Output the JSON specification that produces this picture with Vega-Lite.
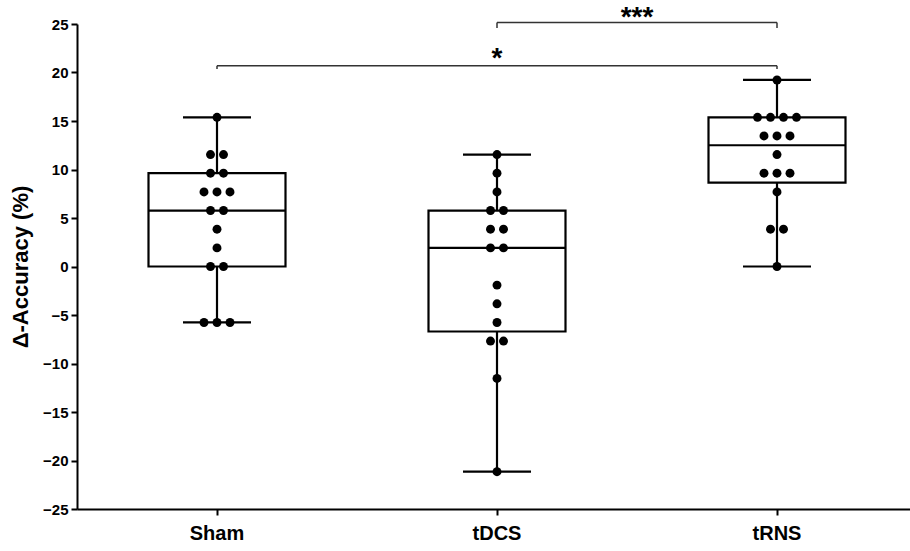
{
  "$schema": "https://vega.github.io/schema/vega-lite/v6.json",
  "width": 833,
  "height": 485,
  "autosize": {"type": "none"},
  "padding": {"left": 77, "top": 24, "right": 0, "bottom": 42},
  "background": "white",
  "config": {
    "font": "Liberation Sans",
    "view": {"stroke": null},
    "axis": {
      "domainColor": "#000000",
      "domainWidth": 2,
      "tickColor": "#000000",
      "tickWidth": 2,
      "tickSize": 6,
      "grid": false,
      "labelColor": "#000000",
      "labelFont": "Liberation Sans",
      "labelFontWeight": 700,
      "titleColor": "#000000",
      "titleFont": "Liberation Sans",
      "titleFontWeight": 700
    },
    "axisY": {"labelFontSize": 15, "labelFontWeight": 700, "labelPadding": 3}
  },
  "datasets": {
    "points": [
      {"group": "Sham", "value": 15.38}, {"group": "Sham", "value": 11.54}, {"group": "Sham", "value": 11.54},
      {"group": "Sham", "value": 9.62}, {"group": "Sham", "value": 9.62}, {"group": "Sham", "value": 7.69},
      {"group": "Sham", "value": 7.69}, {"group": "Sham", "value": 7.69}, {"group": "Sham", "value": 5.77},
      {"group": "Sham", "value": 5.77}, {"group": "Sham", "value": 3.85}, {"group": "Sham", "value": 1.92},
      {"group": "Sham", "value": 0}, {"group": "Sham", "value": 0}, {"group": "Sham", "value": -5.77},
      {"group": "Sham", "value": -5.77}, {"group": "Sham", "value": -5.77},
      {"group": "tDCS", "value": 11.54}, {"group": "tDCS", "value": 9.62}, {"group": "tDCS", "value": 7.69},
      {"group": "tDCS", "value": 5.77}, {"group": "tDCS", "value": 5.77}, {"group": "tDCS", "value": 3.85},
      {"group": "tDCS", "value": 3.85}, {"group": "tDCS", "value": 1.92}, {"group": "tDCS", "value": 1.92},
      {"group": "tDCS", "value": -1.92}, {"group": "tDCS", "value": -3.85}, {"group": "tDCS", "value": -5.77},
      {"group": "tDCS", "value": -7.69}, {"group": "tDCS", "value": -7.69}, {"group": "tDCS", "value": -11.54},
      {"group": "tDCS", "value": -21.15},
      {"group": "tRNS", "value": 19.23}, {"group": "tRNS", "value": 15.38}, {"group": "tRNS", "value": 15.38},
      {"group": "tRNS", "value": 15.38}, {"group": "tRNS", "value": 15.38}, {"group": "tRNS", "value": 13.46},
      {"group": "tRNS", "value": 13.46}, {"group": "tRNS", "value": 13.46}, {"group": "tRNS", "value": 11.54},
      {"group": "tRNS", "value": 9.62}, {"group": "tRNS", "value": 9.62}, {"group": "tRNS", "value": 9.62},
      {"group": "tRNS", "value": 7.69}, {"group": "tRNS", "value": 3.85}, {"group": "tRNS", "value": 3.85},
      {"group": "tRNS", "value": 0}
    ],
    "summary": [
      {"group": "Sham", "min": -5.77, "q1": 0, "median": 5.77, "q3": 9.62, "max": 15.38},
      {"group": "tDCS", "min": -21.15, "q1": -6.7, "median": 1.92, "q3": 5.77, "max": 11.54},
      {"group": "tRNS", "min": 0, "q1": 8.65, "median": 12.5, "q3": 15.38, "max": 19.23}
    ],
    "brackets": [
      {"from": "Sham", "to": "tRNS", "y": 20.7, "tip": 20.35, "label": "*"},
      {"from": "tDCS", "to": "tRNS", "y": 25.15, "tip": 24.6, "label": "***"}
    ]
  },
  "encoding": {
    "x": {
      "field": "group",
      "type": "nominal",
      "title": null,
      "scale": {"domain": ["Sham", "tDCS", "tRNS"], "range": [0, 840], "paddingInner": 0, "paddingOuter": 0},
      "axis": {"labelAngle": 0, "labelFontSize": 20, "labelFontWeight": 700, "labelPadding": 8, "domainWidth": 2}
    }
  },
  "layer": [
    {
      "data": {"name": "summary"},
      "mark": {"type": "rule", "color": "#000000", "strokeWidth": 2.2, "opacity": 1},
      "encoding": {
        "y": {
          "field": "min", "type": "quantitative", "title": "Δ-Accuracy (%)",
          "scale": {"domain": [-25, 25], "nice": false, "zero": false},
          "axis": {"values": [-25, -20, -15, -10, -5, 0, 5, 10, 15, 20, 25], "labelFontSize": 15, "labelFontWeight": 700, "labelPadding": 3, "titleFontSize": 22, "titlePadding": 10}
        },
        "y2": {"field": "q1"}
      }
    },
    {
      "data": {"name": "summary"},
      "mark": {"type": "rule", "color": "#000000", "strokeWidth": 2.2, "opacity": 1},
      "encoding": {
        "y": {"field": "q3", "type": "quantitative", "title": "Δ-Accuracy (%)"},
        "y2": {"field": "max"}
      }
    },
    {
      "data": {"name": "summary"},
      "mark": {"type": "bar", "fill": "#ffffff", "fillOpacity": 1, "stroke": "#000000", "strokeWidth": 2.2, "strokeOpacity": 1, "width": 137},
      "encoding": {
        "y": {"field": "q1", "type": "quantitative", "title": "Δ-Accuracy (%)"},
        "y2": {"field": "q3"}
      }
    },
    {
      "data": {"name": "summary"},
      "mark": {"type": "tick", "color": "#000000", "opacity": 1, "size": 137, "thickness": 2.2},
      "encoding": {
        "y": {"field": "median", "type": "quantitative", "title": "Δ-Accuracy (%)"}
      }
    },
    {
      "data": {"name": "summary"},
      "transform": [{"fold": ["min", "max"], "as": ["stat", "capvalue"]}],
      "mark": {"type": "tick", "color": "#000000", "opacity": 1, "size": 68, "thickness": 2.2},
      "encoding": {
        "y": {"field": "capvalue", "type": "quantitative", "title": "Δ-Accuracy (%)"}
      }
    },
    {
      "data": {"name": "points"},
      "transform": [
        {"window": [{"op": "row_number", "as": "rank"}], "groupby": ["group", "value"]},
        {"joinaggregate": [{"op": "count", "as": "n"}], "groupby": ["group", "value"]},
        {"calculate": "datum.rank - (datum.n + 1) / 2", "as": "slot"}
      ],
      "mark": {"type": "point", "filled": true, "color": "#000000", "opacity": 1, "size": 80},
      "encoding": {
        "y": {"field": "value", "type": "quantitative", "title": "Δ-Accuracy (%)"},
        "xOffset": {"field": "slot", "type": "quantitative", "scale": {"domain": [-2, 2], "range": [114, 166]}}
      }
    },
    {
      "data": {"name": "brackets"},
      "mark": {"type": "rule", "color": "#333333", "strokeWidth": 1.5},
      "encoding": {
        "x": {"field": "from", "type": "nominal", "title": null},
        "x2": {"field": "to"},
        "y": {"field": "y", "type": "quantitative", "title": "Δ-Accuracy (%)"}
      }
    },
    {
      "data": {"name": "brackets"},
      "mark": {"type": "rule", "color": "#333333", "strokeWidth": 1.5},
      "encoding": {
        "x": {"field": "from", "type": "nominal", "title": null},
        "y": {"field": "y", "type": "quantitative", "title": "Δ-Accuracy (%)"},
        "y2": {"field": "tip"}
      }
    },
    {
      "data": {"name": "brackets"},
      "mark": {"type": "rule", "color": "#333333", "strokeWidth": 1.5},
      "encoding": {
        "x": {"field": "to", "type": "nominal", "title": null},
        "y": {"field": "y", "type": "quantitative", "title": "Δ-Accuracy (%)"},
        "y2": {"field": "tip"}
      }
    },
    {
      "data": {"name": "brackets"},
      "transform": [{"filter": "datum.label === '*'"}],
      "mark": {"type": "text", "color": "#000000", "fontSize": 28, "fontWeight": "bold", "baseline": "alphabetic", "dx": 280, "dy": 1},
      "encoding": {
        "x": {"field": "from", "type": "nominal", "title": null},
        "y": {"field": "y", "type": "quantitative", "title": "Δ-Accuracy (%)"},
        "text": {"field": "label"}
      }
    },
    {
      "data": {"name": "brackets"},
      "transform": [{"filter": "datum.label === '***'"}],
      "mark": {"type": "text", "color": "#000000", "fontSize": 28, "fontWeight": "bold", "baseline": "alphabetic", "dx": 140, "dy": 3},
      "encoding": {
        "x": {"field": "from", "type": "nominal", "title": null},
        "y": {"field": "y", "type": "quantitative", "title": "Δ-Accuracy (%)"},
        "text": {"field": "label"}
      }
    }
  ]
}
